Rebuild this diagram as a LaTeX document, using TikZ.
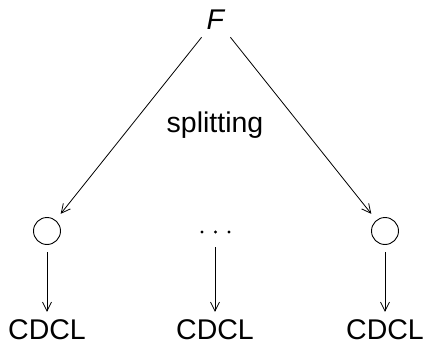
\documentclass[tikz,border=0pt]{standalone}
\usepackage{fontspec}
\setmainfont{Liberation Sans}
\usetikzlibrary{arrows.meta}
\begin{document}
\begin{tikzpicture}[x=1pt,y=-1pt,
  lbl/.style={inner sep=0pt,font=\fontsize{28.5pt}{34pt}\selectfont},
  leaf/.style={circle,draw,line width=0.9pt,minimum size=27pt,inner sep=0pt},
  edge/.style={line width=0.8pt,-{Straight Barb[length=9pt,width=9pt,line width=0.8pt]}},
  dot/.style={circle,fill,inner sep=0pt,minimum size=3.4pt}]
  \useasboundingbox (0,0) rectangle (424,343);
  % root formula
  \node[lbl,anchor=base,inner sep=8pt] (F) at (216,29) {\textit{F}};
  \node[lbl,anchor=base] (split) at (215,132) {splitting};
  % sub-problems after splitting
  \node[leaf] (c1) at (47,231) {};
  \node[leaf] (c2) at (385,231) {};
  \node[inner sep=0pt,minimum width=30pt,minimum height=4pt] (dots) at (215,232) {};
  \node[dot] at (202,232) {};
  \node[dot] at (215.5,232) {};
  \node[dot] at (229,232) {};
  % one CDCL solver per sub-problem
  \node[lbl,anchor=base] (s1) at (47,339) {CDCL};
  \node[lbl,anchor=base] (s2) at (215,339) {CDCL};
  \node[lbl,anchor=base] (s3) at (385,339) {CDCL};
  % connectors
  \draw[edge,shorten >=8pt] (F) -- (c1);
  \draw[edge,shorten >=8pt] (F) -- (c2);
  \draw[edge,shorten <=7.5pt,shorten >=7pt] (c1) -- (s1);
  \draw[edge,shorten <=7.5pt,shorten >=7pt] (c2) -- (s3);
  \draw[edge,shorten <=13pt,shorten >=7pt] (dots) -- (s2);
\end{tikzpicture}
\end{document}
